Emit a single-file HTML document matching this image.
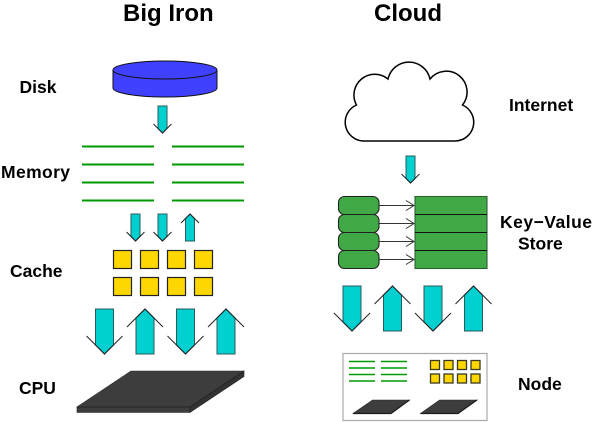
<!DOCTYPE html>
<html><head><meta charset="utf-8"><style>
html,body{margin:0;padding:0;background:#fff;width:600px;height:422px;overflow:hidden}
svg{display:block}
text{font-family:"Liberation Sans",sans-serif;font-weight:bold;fill:#000;font-size:17.5px}
.t{font-size:24px}
.a{fill:#00d0d0;stroke:#2a5a5a;stroke-width:1}
.m{stroke:#090;stroke-width:2;fill:none}
.n{stroke:#090;stroke-width:1.6;fill:none}
.c{fill:#ffd700;stroke:#222;stroke-width:1.2}
.s{fill:#ffd700;stroke:#3a3a20;stroke-width:1.300}
.k{fill:#40a945;stroke:#222;stroke-width:1.100}
.p{fill:#3d3d3d;stroke:#2a2a2a;stroke-width:.6}
.l{stroke:#333;stroke-width:1;fill:none}
.w{fill:none;stroke:#222;stroke-width:1}
</style></head><body>
<svg width="600" height="422" viewBox="0 0 600 422" xmlns="http://www.w3.org/2000/svg">
<defs>
<g id="sd"><path class="a" d="M-4.500 0H4.500V22.500L0 27-4.500 22.500Z"/><path class="w" d="M-9 18L0 27 9 18"/></g>
<g id="su"><path class="a" d="M-4.500 27H4.500V4.500L0 0-4.500 4.500Z"/><path class="w" d="M-9 9L0 0 9 9"/></g>
<g id="bd"><path class="a" d="M-9 0H9V36L0 45-9 36Z"/><path class="w" d="M-18 27L0 45 18 27"/></g>
<g id="bu"><path class="a" d="M-9 45H9V9L0 0-9 9Z"/><path class="w" d="M-18 18L0 0 18 18"/></g>
</defs>

<text class="t" x="123" y="21">Big Iron</text>
<text class="t" x="374" y="21">Cloud</text>

<text x="19.500" y="93">Disk</text>
<text x="1" y="178" textLength="69" lengthAdjust="spacing">Memory</text>
<text x="10" y="277">Cache</text>
<text x="19" y="394">CPU</text>
<text x="509" y="111">Internet</text>
<text x="500" y="228" textLength="92" lengthAdjust="spacing">Key−Value</text>
<text x="518" y="249.500">Store</text>
<text x="518" y="390">Node</text>

<!-- Disk -->
<path d="M113 70V88A52 9 0 0 0 217 88V70Z" fill="#4040ff" stroke="#111" stroke-width="1"/>
<ellipse cx="165" cy="70" rx="52" ry="9" fill="#4040ff" stroke="#111" stroke-width="1"/>

<use href="#sd" x="162.500" y="106"/>

<!-- Memory -->
<path class="m" d="M82 146.500H154M172 146.500H244M82 164.500H154M172 164.500H244M82 182.500H154M172 182.500H244M82 200.500H154M172 200.500H244"/>

<use href="#sd" x="135.500" y="214"/>
<use href="#sd" x="162.500" y="214"/>
<use href="#su" x="190" y="214"/>

<!-- Cache -->
<rect class="c" x="113.500" y="250.500" width="18" height="18"/>
<rect class="c" x="140.500" y="250.500" width="18" height="18"/>
<rect class="c" x="167.500" y="250.500" width="18" height="18"/>
<rect class="c" x="194.500" y="250.500" width="18" height="18"/>
<rect class="c" x="113.500" y="277.500" width="18" height="18"/>
<rect class="c" x="140.500" y="277.500" width="18" height="18"/>
<rect class="c" x="167.500" y="277.500" width="18" height="18"/>
<rect class="c" x="194.500" y="277.500" width="18" height="18"/>

<use href="#bd" x="104.500" y="309"/>
<use href="#bu" x="145" y="309"/>
<use href="#bd" x="185.500" y="309"/>
<use href="#bu" x="226" y="309"/>

<!-- CPU -->
<path d="M77 407H190V412.500H77Z" fill="#3d3d3d" stroke="#222" stroke-width=".6"/>
<path d="M190 407L244 371V376.500L190 412.500Z" fill="#333" stroke="#222" stroke-width=".6"/>
<path class="p" d="M131 371H244L190 407H77Z"/>
<path d="M77 407H190L244 371" fill="none" stroke="#222" stroke-width=".8"/>

<!-- Cloud -->
<path d="M363 141H455A18.800 18.800 0 0 0 462.500 105A20.800 20.800 0 0 0 430 79A21.500 21.500 0 0 0 388 79A20.800 20.800 0 0 0 356.500 105A18.800 18.800 0 0 0 363 141Z" fill="#fff" stroke="#000" stroke-width="1.500"/>

<use href="#sd" x="410.500" y="156"/>

<!-- KV -->
<rect class="k" x="338.500" y="196.500" width="40.500" height="18" rx="6"/>
<rect class="k" x="338.500" y="214.500" width="40.500" height="18" rx="6"/>
<rect class="k" x="338.500" y="232.500" width="40.500" height="18" rx="6"/>
<rect class="k" x="338.500" y="250.500" width="40.500" height="18" rx="6"/>
<path class="l" d="M379 205.500H414M406 200.500L414 205.500 406 210.500M379 223.500H414M406 218.500L414 223.500 406 228.500M379 241.500H414M406 236.500L414 241.500 406 246.500M379 259.500H414M406 254.500L414 259.500 406 264.500"/>
<rect x="415" y="196.500" width="72" height="72" fill="#40a945" stroke="#2f5f33" stroke-width="1.100"/>
<path d="M415 214.500H487M415 232.500H487M415 250.500H487" stroke="#111" stroke-width="1"/>

<use href="#bd" x="352" y="286"/>
<use href="#bu" x="392.500" y="286"/>
<use href="#bd" x="433" y="286"/>
<use href="#bu" x="473.500" y="286"/>

<!-- Node -->
<rect x="343" y="353.500" width="144" height="67" fill="#fff" stroke="#aaa" stroke-width="1.200"/>
<path class="n" d="M349 361.500H375M381 361.500H407M349 368H375M381 368H407M349 374.500H375M381 374.500H407M349 381H375M381 381H407"/>
<rect class="s" x="430.500" y="360.500" width="9" height="9"/>
<rect class="s" x="444" y="360.500" width="9" height="9"/>
<rect class="s" x="457.500" y="360.500" width="9" height="9"/>
<rect class="s" x="471" y="360.500" width="9" height="9"/>
<rect class="s" x="430.500" y="374" width="9" height="9"/>
<rect class="s" x="444" y="374" width="9" height="9"/>
<rect class="s" x="457.500" y="374" width="9" height="9"/>
<rect class="s" x="471" y="374" width="9" height="9"/>
<path class="p" d="M372.500 400H409.500L391 413.500H353Z"/>
<path d="M353 413.500H391L409.500 400" fill="none" stroke="#1c1c1c" stroke-width="1.200"/>
<path class="p" d="M439.500 400H477L458 413.500H420.500Z"/>
<path d="M420.500 413.500H458L477 400" fill="none" stroke="#1c1c1c" stroke-width="1.200"/>
</svg>
</body></html>
